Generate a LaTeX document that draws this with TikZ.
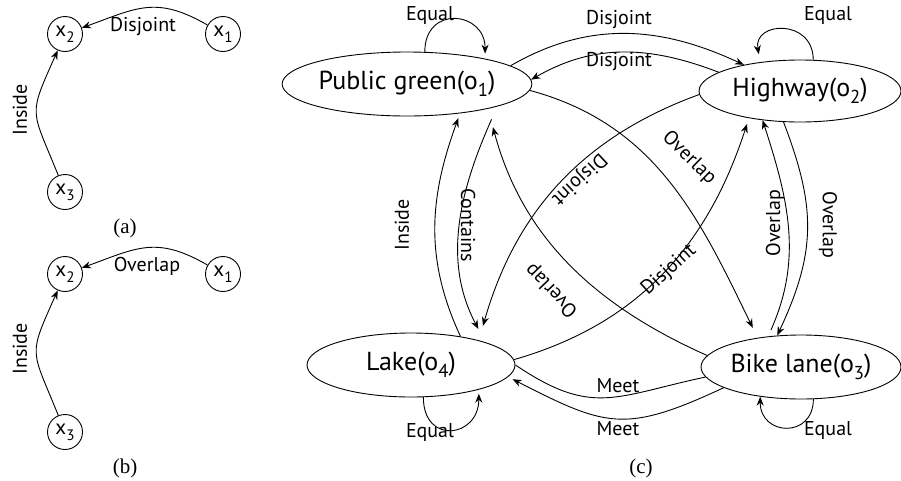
\documentclass[tikz,border=0pt]{standalone}
\usepackage{fontspec}
\setmainfont{PT Sans}
\newfontfamily\capfont{Liberation Serif}
\usetikzlibrary{shapes.geometric,arrows.meta}
\newcommand\idx[1]{\raisebox{-.55ex}{\scalebox{.72}{#1}}}

\begin{document}
\begin{tikzpicture}[x=1pt,y=1pt,line width=0.9pt,
  obj/.style={draw,ellipse,minimum width=208,minimum height=64,font=\fontsize{26}{26}\selectfont},
  var/.style={draw,circle,minimum size=35,font=\fontsize{21}{21}\selectfont},
  lab/.style={font=\fontsize{20}{20}\selectfont},
  capt/.style={font=\capfont\fontsize{21}{21}\selectfont},
  rel/.style={-{Stealth[length=9pt,width=7pt]}}]
\tikzstyle{every node}+=[inner sep=0pt]
\useasboundingbox (0,0) rectangle (901,-480);
% (a)
\node [var] (x2a) at (65,-34) {x\idx{2}};
\node [var] (x1a) at (223,-34) {x\idx{1}};
\node [var] (x3a) at (65,-192) {x\idx{3}};
\draw [rel] (x1a) to[out=150,in=20,looseness=1.2] (x2a);
\draw [rel] (x3a) to[out=112,in=246,looseness=1.5] (x2a);
\node [lab] (da) at (143,-27) {Disjoint};
\node [lab,rotate=90] (ia) at (20,-110) {Inside};
\node [capt] (ca) at (125,-228) {(a)};
% (b)
\node [var] (x2b) at (65,-274) {x\idx{2}};
\node [var] (x1b) at (223,-274) {x\idx{1}};
\node [var] (x3b) at (65,-432) {x\idx{3}};
\draw [rel] (x1b) to[out=150,in=20,looseness=1.2] (x2b);
\draw [rel] (x3b) to[out=112,in=246,looseness=1.5] (x2b);
\node [lab] (ob) at (147,-266) {Overlap};
\node [lab,rotate=90] (ib) at (20,-349) {Inside};
\node [capt] (cb) at (125,-468) {(b)};
% (c)
\node [obj] (o1) at (407,-84) {Public green(o\idx{1})};
\node [obj,minimum width=202,minimum height=62] (o2) at (800,-91) {Highway(o\idx{2})};
\node [obj,minimum width=200] (o3) at (801,-367) {Bike lane(o\idx{3})};
\node [obj] (o4) at (411,-365) {Lake(o\idx{4})};
% self loops
\draw [rel,shorten >=5] (o1.61) to[out=90,in=90,looseness=2] (o1.18);
\draw [rel,shorten >=8] (o2.67) to[out=90,in=100,looseness=2] (o2.144);
\draw [rel,shorten >=4] (o4.-69) to[out=-90,in=-90,looseness=2.2] (o4.-20);
\draw [rel] (o3.-69) to[out=-90,in=-90,looseness=1.9] (o3.216);
\node [lab] (e1) at (430,-15) {Equal};
\node [lab] (e2) at (828,-15) {Equal};
\node [lab] (e4) at (430,-432) {Equal};
\node [lab] (e3) at (828,-430) {Equal};
% o1 -- o2
\draw [rel] (o1.10) to[out=30,in=155] (o2.155);
\draw [rel] (o2.167) to[out=159,in=30] (o1.2);
\node [lab] (d12) at (619,-20) {Disjoint};
\node [lab] (d21) at (619,-62) {Disjoint};
% o1 -- o4
\draw [rel,shorten >=5] (o4.30) to[out=115,in=-110] (o1.-29);
\draw [rel,shorten <=14,shorten >=15] (o1.-14) to[out=246,in=118] (o4.17);
\node [lab,rotate=90] (i41) at (402,-225) {Inside};
\node [lab,rotate=-90] (c14) at (468,-225) {Contains};
% o1 -- o3
\draw [rel,shorten >=11] (o1.-3) to[out=-15,in=116] (o3.146);
\draw [rel,shorten >=19] (o3.173) to[out=156,in=-75] (o1.-17);
\node [lab,rotate=-44] (v13) at (689,-158) {Overlap};
\node [lab,rotate=134] (v31) at (552,-290) {Overlap};
% o2 -- o4
\draw [rel,shorten >=15] (o2.182) to[out=200,in=74] (o4.20);
\draw [rel,shorten >=6] (o4.3) to[out=16,in=-108] (o2.208);
\node [lab,rotate=-137] (d24) at (579,-179) {Disjoint};
\node [lab,rotate=42] (d42) at (669,-270) {Disjoint};
% o2 -- o3
\draw [rel,shorten <=7] (o3.137) to[out=66,in=-72] (o2.218);
\draw [rel] (o2.242) to[out=-69,in=65,looseness=1.1] (o3.127);
\node [lab,rotate=90] (v32) at (775,-223) {Overlap};
\node [lab,rotate=-90] (v23) at (828,-225) {Overlap};
% o3 -- o4
\draw (o4.0) to[out=-34,in=192,looseness=1.25] (o3.186);
\draw [rel,shorten >=5] (o3.195) to[out=205,in=-27,looseness=1.3] (o4.-7);
\node [lab] (m43) at (618,-386) {Meet};
\node [lab] (m34) at (618,-429) {Meet};
\node [capt] (cc) at (641,-468) {(c)};
\end{tikzpicture}
\end{document}
